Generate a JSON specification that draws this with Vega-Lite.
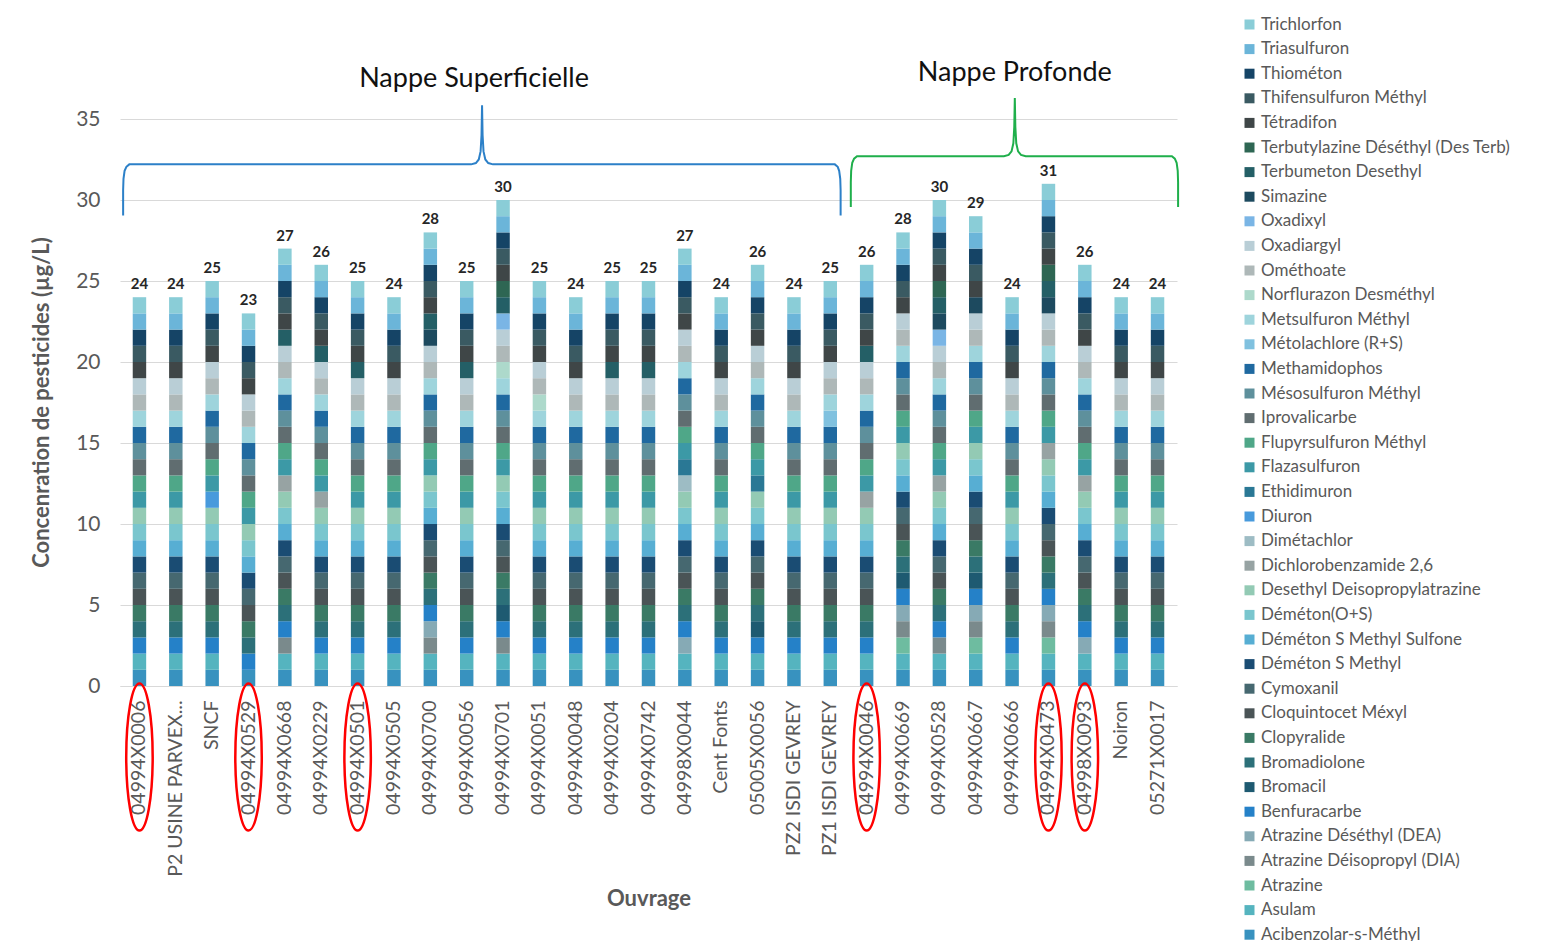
{
  "$schema": "https://vega.github.io/schema/vega-lite/v6.json",
  "width": 1057,
  "height": 567,
  "autosize": {"type": "none"},
  "padding": {"left": 120, "top": 119, "right": 365, "bottom": 255},
  "background": "white",
  "config": {"font": "Lato", "view": {"stroke": null}},
  "datasets": {
    "pesticides": [
      {"id": 1, "pesticide": "Acibenzolar-s-Méthyl"},
      {"id": 2, "pesticide": "Asulam"},
      {"id": 3, "pesticide": "Atrazine"},
      {"id": 4, "pesticide": "Atrazine Déisopropyl (DIA)"},
      {"id": 5, "pesticide": "Atrazine Déséthyl (DEA)"},
      {"id": 6, "pesticide": "Benfuracarbe"},
      {"id": 7, "pesticide": "Bromacil"},
      {"id": 8, "pesticide": "Bromadiolone"},
      {"id": 9, "pesticide": "Clopyralide"},
      {"id": 10, "pesticide": "Cloquintocet Méxyl"},
      {"id": 11, "pesticide": "Cymoxanil"},
      {"id": 12, "pesticide": "Déméton S Methyl"},
      {"id": 13, "pesticide": "Déméton S Methyl Sulfone"},
      {"id": 14, "pesticide": "Déméton(O+S)"},
      {"id": 15, "pesticide": "Desethyl Deisopropylatrazine"},
      {"id": 16, "pesticide": "Dichlorobenzamide 2,6"},
      {"id": 17, "pesticide": "Dimétachlor"},
      {"id": 18, "pesticide": "Diuron"},
      {"id": 19, "pesticide": "Ethidimuron"},
      {"id": 20, "pesticide": "Flazasulfuron"},
      {"id": 21, "pesticide": "Flupyrsulfuron Méthyl"},
      {"id": 22, "pesticide": "Iprovalicarbe"},
      {"id": 23, "pesticide": "Mésosulfuron Méthyl"},
      {"id": 24, "pesticide": "Methamidophos"},
      {"id": 25, "pesticide": "Métolachlore (R+S)"},
      {"id": 26, "pesticide": "Metsulfuron Méthyl"},
      {"id": 27, "pesticide": "Norflurazon Desméthyl"},
      {"id": 28, "pesticide": "Ométhoate"},
      {"id": 29, "pesticide": "Oxadiargyl"},
      {"id": 30, "pesticide": "Oxadixyl"},
      {"id": 31, "pesticide": "Simazine"},
      {"id": 32, "pesticide": "Terbumeton Desethyl"},
      {"id": 33, "pesticide": "Terbutylazine Déséthyl (Des Terb)"},
      {"id": 34, "pesticide": "Tétradifon"},
      {"id": 35, "pesticide": "Thifensulfuron Méthyl"},
      {"id": 36, "pesticide": "Thiométon"},
      {"id": 37, "pesticide": "Triasulfuron"},
      {"id": 38, "pesticide": "Trichlorfon"}
    ],
    "ouvrages": [
      {"ouvrage": "04994X0006", "nappe": "Superficielle", "cercle": true, "pesticides": [1,2,6,8,9,10,11,12,13,14,15,20,21,22,23,24,26,28,29,34,35,36,37,38]},
      {"ouvrage": "P2 USINE PARVEX...", "nappe": "Superficielle", "cercle": false, "pesticides": [1,2,6,8,9,10,11,12,13,14,15,20,21,22,23,24,26,28,29,34,35,36,37,38]},
      {"ouvrage": "SNCF", "nappe": "Superficielle", "cercle": false, "pesticides": [1,2,6,8,9,10,11,12,13,14,15,18,20,21,22,23,24,26,28,29,34,35,36,37,38]},
      {"ouvrage": "04994X0529", "nappe": "Superficielle", "cercle": true, "pesticides": [1,6,8,9,10,11,12,13,14,15,20,21,22,23,24,26,28,29,34,35,36,37,38]},
      {"ouvrage": "04994X0668", "nappe": "Superficielle", "cercle": false, "pesticides": [1,2,4,6,8,9,10,11,12,13,14,15,16,20,21,22,23,24,26,28,29,32,34,35,36,37,38]},
      {"ouvrage": "04994X0229", "nappe": "Superficielle", "cercle": false, "pesticides": [1,2,6,8,9,10,11,12,13,14,15,16,20,21,22,23,24,26,28,29,32,34,35,36,37,38]},
      {"ouvrage": "04994X0501", "nappe": "Superficielle", "cercle": true, "pesticides": [1,2,6,8,9,10,11,12,13,14,15,20,21,22,23,24,26,28,29,32,34,35,36,37,38]},
      {"ouvrage": "04994X0505", "nappe": "Superficielle", "cercle": false, "pesticides": [1,2,6,8,9,10,11,12,13,14,15,20,21,22,23,24,26,28,29,34,35,36,37,38]},
      {"ouvrage": "04994X0700", "nappe": "Superficielle", "cercle": false, "pesticides": [1,2,4,5,6,8,9,10,11,12,13,14,15,20,21,22,23,24,26,28,29,31,32,34,35,36,37,38]},
      {"ouvrage": "04994X0056", "nappe": "Superficielle", "cercle": false, "pesticides": [1,2,6,8,9,10,11,12,13,14,15,20,21,22,23,24,26,28,29,32,34,35,36,37,38]},
      {"ouvrage": "04994X0701", "nappe": "Superficielle", "cercle": false, "pesticides": [1,2,4,6,7,8,9,10,11,12,13,14,15,20,21,22,23,24,26,27,28,29,30,32,33,34,35,36,37,38]},
      {"ouvrage": "04994X0051", "nappe": "Superficielle", "cercle": false, "pesticides": [1,2,6,8,9,10,11,12,13,14,15,20,21,22,23,24,26,27,28,29,34,35,36,37,38]},
      {"ouvrage": "04994X0048", "nappe": "Superficielle", "cercle": false, "pesticides": [1,2,6,8,9,10,11,12,13,14,15,20,21,22,23,24,26,28,29,34,35,36,37,38]},
      {"ouvrage": "04994X0204", "nappe": "Superficielle", "cercle": false, "pesticides": [1,2,6,8,9,10,11,12,13,14,15,20,21,22,23,24,26,28,29,32,34,35,36,37,38]},
      {"ouvrage": "04994X0742", "nappe": "Superficielle", "cercle": false, "pesticides": [1,2,6,8,9,10,11,12,13,14,15,20,21,22,23,24,26,28,29,32,34,35,36,37,38]},
      {"ouvrage": "04998X0044", "nappe": "Superficielle", "cercle": false, "pesticides": [1,2,5,6,8,9,10,11,12,13,14,15,17,19,20,21,22,23,24,26,28,29,34,35,36,37,38]},
      {"ouvrage": "Cent Fonts", "nappe": "Superficielle", "cercle": false, "pesticides": [1,2,6,8,9,10,11,12,13,14,15,20,21,22,23,24,26,28,29,34,35,36,37,38]},
      {"ouvrage": "05005X0056", "nappe": "Superficielle", "cercle": false, "pesticides": [1,2,6,7,8,9,10,11,12,13,14,15,19,20,21,22,23,24,26,28,29,34,35,36,37,38]},
      {"ouvrage": "PZ2 ISDI GEVREY", "nappe": "Superficielle", "cercle": false, "pesticides": [1,2,6,8,9,10,11,12,13,14,15,20,21,22,23,24,26,28,29,34,35,36,37,38]},
      {"ouvrage": "PZ1 ISDI GEVREY", "nappe": "Superficielle", "cercle": false, "pesticides": [1,2,6,8,9,10,11,12,13,14,15,20,21,22,23,24,25,26,28,29,34,35,36,37,38]},
      {"ouvrage": "04994X0046", "nappe": "Profonde", "cercle": true, "pesticides": [1,2,6,8,9,10,11,12,13,14,15,16,20,21,22,23,24,26,28,29,32,34,35,36,37,38]},
      {"ouvrage": "04994X0669", "nappe": "Profonde", "cercle": false, "pesticides": [1,2,3,4,5,6,7,8,9,10,11,12,13,14,15,20,21,22,23,24,26,28,29,34,35,36,37,38]},
      {"ouvrage": "04994X0528", "nappe": "Profonde", "cercle": false, "pesticides": [1,2,4,6,8,9,10,11,12,13,14,15,16,20,21,22,23,24,26,28,29,30,31,32,33,34,35,36,37,38]},
      {"ouvrage": "04994X0667", "nappe": "Profonde", "cercle": false, "pesticides": [1,2,3,4,5,6,7,8,9,10,11,12,13,14,15,20,21,22,23,24,26,28,29,31,34,35,36,37,38]},
      {"ouvrage": "04994X0666", "nappe": "Profonde", "cercle": false, "pesticides": [1,2,6,8,9,10,11,12,13,14,15,20,21,22,23,24,26,28,29,34,35,36,37,38]},
      {"ouvrage": "04994X0473", "nappe": "Profonde", "cercle": true, "pesticides": [1,2,3,4,5,6,8,9,10,11,12,13,14,15,16,20,21,22,23,24,26,28,29,31,32,33,34,35,36,37,38]},
      {"ouvrage": "04998X0093", "nappe": "Profonde", "cercle": true, "pesticides": [1,2,5,6,8,9,10,11,12,13,14,15,16,20,21,22,23,24,26,28,29,34,35,36,37,38]},
      {"ouvrage": "Noiron", "nappe": "Profonde", "cercle": false, "pesticides": [1,2,6,8,9,10,11,12,13,14,15,20,21,22,23,24,26,28,29,34,35,36,37,38]},
      {"ouvrage": "05271X0017", "nappe": "Profonde", "cercle": false, "pesticides": [1,2,6,8,9,10,11,12,13,14,15,20,21,22,23,24,26,28,29,34,35,36,37,38]}
    ],
    "accolades": [
      {"nappe": "Superficielle", "k": 1, "i": -0.45, "v": 29.05},
      {"nappe": "Superficielle", "k": 2, "i": -0.45, "v": 30.6},
      {"nappe": "Superficielle", "k": 3, "i": -0.44, "v": 31.3},
      {"nappe": "Superficielle", "k": 4, "i": -0.41, "v": 31.8},
      {"nappe": "Superficielle", "k": 5, "i": -0.36, "v": 32.05},
      {"nappe": "Superficielle", "k": 6, "i": -0.28, "v": 32.2},
      {"nappe": "Superficielle", "k": 7, "i": 9.12, "v": 32.2},
      {"nappe": "Superficielle", "k": 8, "i": 9.25, "v": 32.28},
      {"nappe": "Superficielle", "k": 9, "i": 9.33, "v": 32.5},
      {"nappe": "Superficielle", "k": 10, "i": 9.38, "v": 33.0},
      {"nappe": "Superficielle", "k": 11, "i": 9.405, "v": 34.0},
      {"nappe": "Superficielle", "k": 12, "i": 9.42, "v": 35.85},
      {"nappe": "Superficielle", "k": 13, "i": 9.435, "v": 34.0},
      {"nappe": "Superficielle", "k": 14, "i": 9.46, "v": 33.0},
      {"nappe": "Superficielle", "k": 15, "i": 9.51, "v": 32.5},
      {"nappe": "Superficielle", "k": 16, "i": 9.59, "v": 32.28},
      {"nappe": "Superficielle", "k": 17, "i": 9.72, "v": 32.2},
      {"nappe": "Superficielle", "k": 18, "i": 19.12, "v": 32.2},
      {"nappe": "Superficielle", "k": 19, "i": 19.2, "v": 32.05},
      {"nappe": "Superficielle", "k": 20, "i": 19.24, "v": 31.8},
      {"nappe": "Superficielle", "k": 21, "i": 19.27, "v": 31.3},
      {"nappe": "Superficielle", "k": 22, "i": 19.28, "v": 30.6},
      {"nappe": "Superficielle", "k": 23, "i": 19.28, "v": 29.05},
      {"nappe": "Profonde", "k": 1, "i": 19.56, "v": 29.57},
      {"nappe": "Profonde", "k": 2, "i": 19.56, "v": 31.1},
      {"nappe": "Profonde", "k": 3, "i": 19.57, "v": 31.8},
      {"nappe": "Profonde", "k": 4, "i": 19.6, "v": 32.3},
      {"nappe": "Profonde", "k": 5, "i": 19.65, "v": 32.55},
      {"nappe": "Profonde", "k": 6, "i": 19.73, "v": 32.7},
      {"nappe": "Profonde", "k": 7, "i": 23.77, "v": 32.7},
      {"nappe": "Profonde", "k": 8, "i": 23.9, "v": 32.78},
      {"nappe": "Profonde", "k": 9, "i": 23.98, "v": 33.0},
      {"nappe": "Profonde", "k": 10, "i": 24.03, "v": 33.5},
      {"nappe": "Profonde", "k": 11, "i": 24.055, "v": 34.5},
      {"nappe": "Profonde", "k": 12, "i": 24.07, "v": 36.3},
      {"nappe": "Profonde", "k": 13, "i": 24.085, "v": 34.5},
      {"nappe": "Profonde", "k": 14, "i": 24.11, "v": 33.5},
      {"nappe": "Profonde", "k": 15, "i": 24.16, "v": 33.0},
      {"nappe": "Profonde", "k": 16, "i": 24.24, "v": 32.78},
      {"nappe": "Profonde", "k": 17, "i": 24.37, "v": 32.7},
      {"nappe": "Profonde", "k": 18, "i": 28.39, "v": 32.7},
      {"nappe": "Profonde", "k": 19, "i": 28.47, "v": 32.55},
      {"nappe": "Profonde", "k": 20, "i": 28.52, "v": 32.3},
      {"nappe": "Profonde", "k": 21, "i": 28.55, "v": 31.8},
      {"nappe": "Profonde", "k": 22, "i": 28.56, "v": 31.1},
      {"nappe": "Profonde", "k": 23, "i": 28.56, "v": 29.57}
    ],
    "titres": [
      {"label": "Nappe Superficielle", "i": 9.2, "v": 37.47},
      {"label": "Nappe Profonde", "i": 24.07, "v": 37.84}
    ]
  },
  "layer": [
    {
      "data": {"name": "ouvrages"},
      "layer": [
        {
          "transform": [
            {"flatten": ["pesticides"], "as": ["id"]},
            {"lookup": "id", "from": {"data": {"name": "pesticides"}, "key": "id", "fields": ["pesticide"]}}
          ],
          "mark": {"type": "bar"},
          "encoding": {
            "x": {
              "field": "ouvrage", "type": "nominal", "sort": null,
              "scale": {"paddingInner": 0.63, "paddingOuter": 0.35},
              "axis": {
                "title": "Ouvrage", "labelAngle": -90, "labelFontSize": 19.5, "labelColor": "#595959",
                "labelPadding": 14, "labelLimit": 400, "ticks": false, "domain": true, "domainColor": "#D9D9D9",
                "titleFontSize": 22, "titleColor": "#595959", "titleFontWeight": "bold",
                "titleY": 212, "titleBaseline": "middle"
              }
            },
            "y": {
              "aggregate": "count", "type": "quantitative",
              "scale": {"domain": [0, 35], "nice": false},
              "axis": {
                "values": [0, 5, 10, 15, 20, 25, 30, 35],
                "title": "Concenration de pesticides (µg/L)",
                "grid": true, "gridColor": "#D9D9D9", "domain": false, "ticks": false,
                "labelFontSize": 21, "labelColor": "#595959", "labelPadding": 20,
                "titleFontSize": 22, "titleFontWeight": "bold", "titleColor": "#595959",
                "titleX": -79, "titleY": 283, "titleBaseline": "middle", "titleAlign": "center"
              }
            },
            "color": {
              "field": "pesticide", "type": "nominal",
              "scale": {
                "domain": ["Trichlorfon","Triasulfuron","Thiométon","Thifensulfuron Méthyl","Tétradifon","Terbutylazine Déséthyl (Des Terb)","Terbumeton Desethyl","Simazine","Oxadixyl","Oxadiargyl","Ométhoate","Norflurazon Desméthyl","Metsulfuron Méthyl","Métolachlore (R+S)","Methamidophos","Mésosulfuron Méthyl","Iprovalicarbe","Flupyrsulfuron Méthyl","Flazasulfuron","Ethidimuron","Diuron","Dimétachlor","Dichlorobenzamide 2,6","Desethyl Deisopropylatrazine","Déméton(O+S)","Déméton S Methyl Sulfone","Déméton S Methyl","Cymoxanil","Cloquintocet Méxyl","Clopyralide","Bromadiolone","Bromacil","Benfuracarbe","Atrazine Déséthyl (DEA)","Atrazine Déisopropyl (DIA)","Atrazine","Asulam","Acibenzolar-s-Méthyl"],
                "range": ["#8ACDD7","#6BB5D9","#154466","#3A5A62","#3F4647","#2E6653","#245F66","#1D4A5F","#7AB5E5","#B9CED6","#AEB8B8","#ADD9CB","#9ED4DC","#80C1DF","#1F69A0","#5E909C","#606D70","#4FA788","#3C99A6","#2A7895","#489ADC","#9DBCC4","#97A3A3","#93CAB4","#7AC6CE","#57AED3","#1A4C73","#466870","#4A5456","#3A7A65","#2C7079","#1E5A71","#2581C8","#86AAB5","#7A8A8C","#6EBCA0","#55B4BF","#3892BF"]
              },
              "legend": {
                "orient": "none", "legendX": 1121, "legendY": -103, "direction": "vertical",
                "title": null, "symbolType": "square", "symbolSize": 100, "symbolStrokeWidth": 0,
                "labelFontSize": 17, "labelColor": "#595959", "rowPadding": 6.6, "symbolLimit": 50,
                "labelLimit": 400, "labelOffset": 3
              }
            },
            "order": {"field": "id", "type": "quantitative", "sort": "ascending"}
          }
        },
        {
          "transform": [
            {"flatten": ["pesticides"], "as": ["id"]}
          ],
          "mark": {"type": "text", "dy": -8, "baseline": "alphabetic", "fontWeight": "bold", "fontSize": 15, "color": "#262626"},
          "encoding": {
            "x": {"field": "ouvrage", "type": "nominal", "sort": null},
            "y": {"aggregate": "count", "type": "quantitative"},
            "text": {"aggregate": "count", "type": "quantitative"}
          }
        },
        {
          "transform": [{"filter": "datum.cercle"}],
          "mark": {
            "type": "point", "shape": "M0,-1 A0.18,1 0 1,1 0,1 A0.18,1 0 1,1 0,-1 Z",
            "size": 21609, "filled": false, "stroke": "#FF0000", "strokeWidth": 2.5, "opacity": 1
          },
          "encoding": {
            "x": {"field": "ouvrage", "type": "nominal", "sort": null},
            "y": {"datum": -4.38, "type": "quantitative"}
          }
        }
      ]
    },
    {
      "layer": [
        {
          "data": {"name": "accolades"},
          "transform": [{"filter": "datum.nappe === 'Superficielle'"}],
          "mark": {"type": "line", "color": "#2C80C8", "strokeWidth": 2},
          "encoding": {
            "x": {"field": "i", "type": "quantitative", "scale": {"domain": [-0.536, 28.53], "nice": false, "zero": false}, "axis": null},
            "y": {"field": "v", "type": "quantitative"},
            "order": {"field": "k", "type": "quantitative"}
          }
        },
        {
          "data": {"name": "accolades"},
          "transform": [{"filter": "datum.nappe === 'Profonde'"}],
          "mark": {"type": "line", "color": "#1FAF4B", "strokeWidth": 2},
          "encoding": {
            "x": {"field": "i", "type": "quantitative", "axis": null},
            "y": {"field": "v", "type": "quantitative"},
            "order": {"field": "k", "type": "quantitative"}
          }
        },
        {
          "data": {"name": "titres"},
          "mark": {"type": "text", "fontSize": 27, "color": "#111111", "baseline": "middle", "align": "center"},
          "encoding": {
            "x": {"field": "i", "type": "quantitative", "axis": null},
            "y": {"field": "v", "type": "quantitative"},
            "text": {"field": "label"}
          }
        }
      ]
    }
  ],
  "resolve": {"scale": {"x": "independent"}, "axis": {"x": "independent"}}
}
